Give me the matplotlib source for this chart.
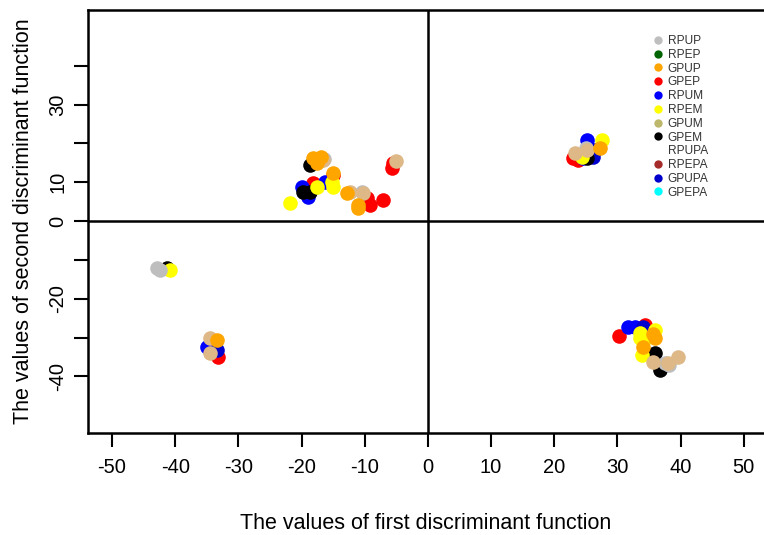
import numpy as np
import matplotlib.pyplot as plt
from matplotlib.lines import Line2D

plt.rcParams['font.family'] = ['Liberation Sans', 'DejaVu Sans']
plt.rcParams['axes.unicode_minus'] = False

# group names and colours (legend order)
groups = ["RPUP", "RPEP", "GPUP", "GPEP", "RPUM", "RPEM", "GPUM", "GPEM",
          "RPUPA", "RPEPA", "GPUPA", "GPEPA"]
legend_colors = ["#BEBEBE", "#006400", "#FFA500", "#FF0000", "#0000FF", "#FFFF00",
                 "#BDB76B", "#000000", "#FFFFFF", "#A52A2A", "#0000CD", "#00FFFF"]

# discriminant scores (LD1, LD2)
rpup_x = [-16.5, -10.5, -42.9, -42.4, 37.5, 38.2, 25.0]
rpup_y = [16.0, 7.5, -12.1, -12.6, -36.6, -37.0, 18.8]

gpup_x = [-18.2, -17.6, -17.0, -15.0, -12.8, -11.1, -11.0, -33.4, 27.2, 35.9, 34.0, 35.6]
gpup_y = [16.2, 15.0, 16.5, 12.4, 7.2, 4.1, 3.4, -30.7, 18.8, -30.2, -32.5, -29.0]

gpep_x = [-5.5, -5.7, -18.2, -15.0, -9.7, -9.2, -7.1, 22.9, 23.7, -33.2, -33.7, 30.2, 34.3]
gpep_y = [15.0, 13.7, 9.8, 11.9, 5.9, 4.1, 5.4, 16.2, 15.7, -35.1, -34.0, -29.6, -26.8]

rpum_x = [-19.0, -19.9, -16.3, 25.2, 24.5, -35.0, -34.0, 31.6, 32.8]
rpum_y = [6.2, 8.8, 10.1, 20.9, 16.2, -32.5, -32.7, -27.3, -27.3]

rpem_x = [-21.8, -17.6, -15.2, -15.0, 27.5, 24.4, -40.8, 33.5, 35.9, 33.5, 34.0, 33.9]
rpem_y = [4.6, 8.8, 10.1, 8.8, 20.9, 16.5, -12.6, -28.9, -28.1, -30.2, -31.2, -34.5]

gpum_x = [-16.6, -5.0, -12.3, -10.3, 25.2, 23.3, -34.5, -34.5, 35.6, 39.6, 38.0]
gpum_y = [15.7, 15.5, 7.5, 7.2, 18.3, 17.5, -30.2, -34.0, -36.3, -35.1, -36.6]

gpem_x = [-18.7, -19.8, -18.7, 25.2, -41.3, 35.9, 36.7]
gpem_y = [14.4, 7.5, 7.5, 16.2, -12.1, -34.0, -38.4]

gpupa_x = [26.4, 26.1, -33.4, 34.0]
gpupa_y = [18.3, 16.5, -33.2, -27.3]

xticks = [-50, -40, -30, -20, -10, 0, 10, 20, 30, 40, 50]
yticks = [-40, -30, -20, -10, 0, 10, 20, 30, 40]
ytick_labels = ["-40", "", "-20", "", "0", "10", "", "30", ""]

fig = plt.figure(figsize=(7.64, 5.35), dpi=100)
ax = fig.add_axes([0.1152, 0.1907, 0.8848, 0.7907])

s = 110
ax.scatter(gpep_x, gpep_y, s=s, c="#FF0000", linewidths=0, zorder=3)
ax.scatter(rpum_x, rpum_y, s=s, c="#0000FF", linewidths=0, zorder=3)
ax.scatter(gpupa_x, gpupa_y, s=s, c="#0000CD", linewidths=0, zorder=3)
ax.scatter(gpem_x, gpem_y, s=s, c="#000000", linewidths=0, zorder=3)
ax.scatter(rpem_x, rpem_y, s=s, c="#FFFF00", linewidths=0, zorder=3)
ax.scatter(rpup_x, rpup_y, s=s, c="#BEBEBE", linewidths=0, zorder=3)
ax.scatter(gpum_x, gpum_y, s=s, c="#DEB887", linewidths=0, zorder=3)
ax.scatter(gpup_x, gpup_y, s=s, c="#FFA500", linewidths=0, zorder=3)

ax.axvline(0, color="black", lw=1.8, zorder=2)
ax.axhline(0, color="black", lw=1.8, zorder=2)

ax.set_xlim(-53.8, 53.2)
ax.set_ylim(-54.6, 54.4)
ax.set_xticks(xticks)
ax.set_yticks(yticks)
ax.set_yticklabels(ytick_labels)
ax.tick_params(axis="both", direction="out", length=10, width=1.5,
               labelsize=14.5)
ax.tick_params(axis="x", pad=8)
ax.tick_params(axis="y", pad=5)
for lab in ax.get_yticklabels():
    lab.set_rotation(90)
    lab.set_va("center")

for side in ["left", "bottom", "top"]:
    ax.spines[side].set_linewidth(1.8)
ax.spines["right"].set_visible(False)

ax.set_xlabel("The values of first discriminant function", fontsize=15.5, labelpad=26)
ax.set_ylabel("The values of second discriminant function", fontsize=15.5, labelpad=10)

handles = [Line2D([], [], marker="o", ls="none", markersize=6,
                  markerfacecolor=c, markeredgewidth=0) for c in legend_colors]
leg = ax.legend(handles, groups, loc="upper left", bbox_to_anchor=(0.8256, 0.955),
                frameon=False, fontsize=8.6, handletextpad=0.3, labelspacing=0.15,
                handlelength=1.0, borderpad=0)
for t in leg.get_texts():
    t.set_color("#333333")

fig.savefig("out.png", dpi=100)
